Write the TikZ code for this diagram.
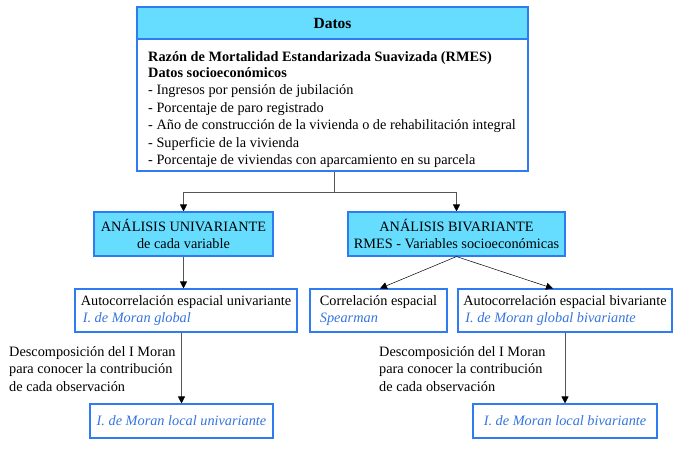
\documentclass[tikz,border=0pt]{standalone}
\usepackage{fontspec}
\setmainfont{Liberation Serif}
\usetikzlibrary{arrows.meta}
\definecolor{headcyan}{HTML}{66DDFF}
\definecolor{boxblue}{HTML}{2F7BF2}
\definecolor{txtblue}{HTML}{3374E0}
\definecolor{linegray}{HTML}{555555}
\tikzset{
  box/.style={draw=boxblue, line width=1.1pt, inner sep=0pt, align=left},
  cyanbox/.style={box, fill=headcyan, align=center},
  conn/.style={draw=linegray, line width=0.8pt, -{Triangle[width=7pt,length=7pt,black]}},
  plain/.style={draw=linegray, line width=0.8pt},
  diag/.style={draw=black, line width=0.5pt, -{Triangle[width=7pt,length=7pt,black]}},
  txt/.style={font=\rmfamily\fontsize{14.3}{17.5}\selectfont, inner sep=0pt},
  mor/.style={text=txtblue, font=\rmfamily\fontsize{14.3}{17.5}\selectfont\itshape}
}
\begin{document}
\begin{tikzpicture}[x=1pt, y=-1pt]
\useasboundingbox (0,0) rectangle (679,469);
% Datos
\node[box, minimum width=391pt, minimum height=164pt] (datos) at (332.5,89) {};
\node[draw=boxblue, line width=1.1pt, fill=headcyan, minimum width=391pt, minimum height=32pt, inner sep=0pt, font=\rmfamily\fontsize{15.5}{17}\selectfont\bfseries] (datoshead) at (332.5,23) {Datos};
\node[txt, anchor=north west, align=left] (datostxt) at (148,51) {%
\textbf{Razón de Mortalidad Estandarizada Suavizada (RMES)}\\[-1.5pt]
\textbf{Datos socioeconómicos}\\
- Ingresos por pensión de jubilación\\
- Porcentaje de paro registrado\\
- Año de construcción de la vivienda o de rehabilitación integral\\
- Superficie de la vivienda\\
- Porcentaje de viviendas con aparcamiento en su parcela};
% analysis boxes
\node[cyanbox, minimum width=179pt, minimum height=44pt, txt] (univ) at (183.5,234) {ANÁLISIS UNIVARIANTE\\de cada variable};
\node[cyanbox, minimum width=217pt, minimum height=44pt, txt] (biv) at (456.5,234) {ANÁLISIS BIVARIANTE\\RMES - Variables socioeconómicas};
% second level
\node[box, minimum width=222pt, minimum height=43pt, txt, align=left] (autou) at (186,310.5) {Autocorrelación espacial univariante\\\hspace{2pt}{\color{txtblue}\itshape I. de Moran global}};
\node[box, minimum width=137pt, minimum height=43pt, txt, align=left] (corr) at (378.5,310.5) {Correlación espacial\\{\color{txtblue}\itshape Spearman}};
\node[box, minimum width=214pt, minimum height=43pt, txt, align=left] (autob) at (565,310.5) {Autocorrelación espacial bivariante\\\hspace{2pt}{\color{txtblue}\itshape I. de Moran global bivariante}};
% third level
\node[box, minimum width=183pt, minimum height=34pt, mor, inner sep=0pt] (localu) at (181.5,421) {I. de Moran local univariante};
\node[box, minimum width=184pt, minimum height=34pt, mor, inner sep=0pt] (localb) at (565,421) {I. de Moran local bivariante};
% labels
\node[txt, anchor=north west, align=left] (descu) at (9,346) {Descomposición del I Moran\\para conocer la contribución\\de cada observación};
\node[txt, anchor=north west, align=left] (descb) at (379,346) {Descomposición del I Moran\\para conocer la contribución\\de cada observación};
% connectors
\coordinate (split) at (334,192);
\draw[plain] (datos.south -| split) -- (split);
\draw[conn] (split) -| (univ.north);
\draw[conn] (split) -| (biv.north);
\draw[conn] (univ.south) -- (univ.south |- autou.north);
\draw[diag] (biv.south) -- ([xshift=1.5pt]corr.north);
\draw[diag] (biv.south) -- ([xshift=-12pt]autob.north);
\draw[conn] (autou.south -| localu.north) -- (localu.north);
\draw[conn] (autob.south) -- (localb.north);
\end{tikzpicture}
\end{document}
